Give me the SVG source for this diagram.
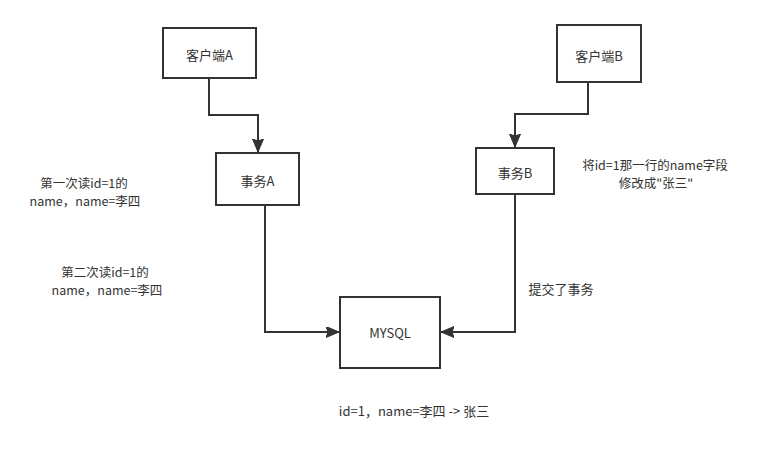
<svg xmlns="http://www.w3.org/2000/svg" width="760" height="459" viewBox="0 0 760 459">
<style>
.box{fill:#ffffff;stroke:#333333;stroke-width:2}
.edge{fill:none;stroke:#333333;stroke-width:2}
.t{font-family:"Noto Sans CJK SC","Liberation Sans",sans-serif;font-size:13px;fill:#333333;text-anchor:middle;dominant-baseline:central}
.s{font-size:12.5px}
</style>
<defs>
<marker id="arr" markerUnits="userSpaceOnUse" markerWidth="14" markerHeight="12" refX="13" refY="5.5" orient="auto">
<path d="M0,0 L13,5.5 L0,11 L2,5.5 Z" fill="#333333" stroke="#333333" stroke-width="1"/>
</marker>
</defs>
<rect width="760" height="459" fill="#ffffff"/>
<g id="connectors">
<path class="edge" d="M209,78 V115 H258 V152" marker-end="url(#arr)"/>
<path class="edge" d="M588,82 V114 H515 V147" marker-end="url(#arr)"/>
<path class="edge" d="M265,205 V332 H339" marker-end="url(#arr)"/>
<path class="edge" d="M515,194 V332 H441" marker-end="url(#arr)"/>
</g>
<g id="clientA">
<rect class="box" x="163" y="28" width="93" height="50"/>
<text class="t" x="209.5" y="54">客户端A</text>
</g>
<g id="clientB">
<rect class="box" x="557" y="25" width="84" height="57"/>
<text class="t" x="599" y="55">客户端B</text>
</g>
<g id="txA">
<rect class="box" x="216" y="153" width="83" height="52"/>
<text class="t" x="257.5" y="180">事务A</text>
</g>
<g id="txB">
<rect class="box" x="476" y="148" width="78" height="46"/>
<text class="t" x="515" y="172">事务B</text>
</g>
<g id="mysql">
<rect class="box" x="340" y="297" width="100" height="71"/>
<text class="t" x="390" y="332">MYSQL</text>
</g>
<g id="labels">
<text class="t s" x="84" y="182">第一次读id=1的</text>
<text class="t s" x="85" y="200">name，name=李四</text>
<text class="t s" x="105" y="271">第二次读id=1的</text>
<text class="t s" x="107" y="289">name，name=李四</text>
<text class="t s" x="655" y="164">将id=1那一行的name字段</text>
<text class="t s" x="656" y="182">修改成"张三"</text>
<text class="t" x="561" y="288">提交了事务</text>
<text class="t" x="414" y="410">id=1，name=李四 -&gt; 张三</text>
</g>
</svg>
